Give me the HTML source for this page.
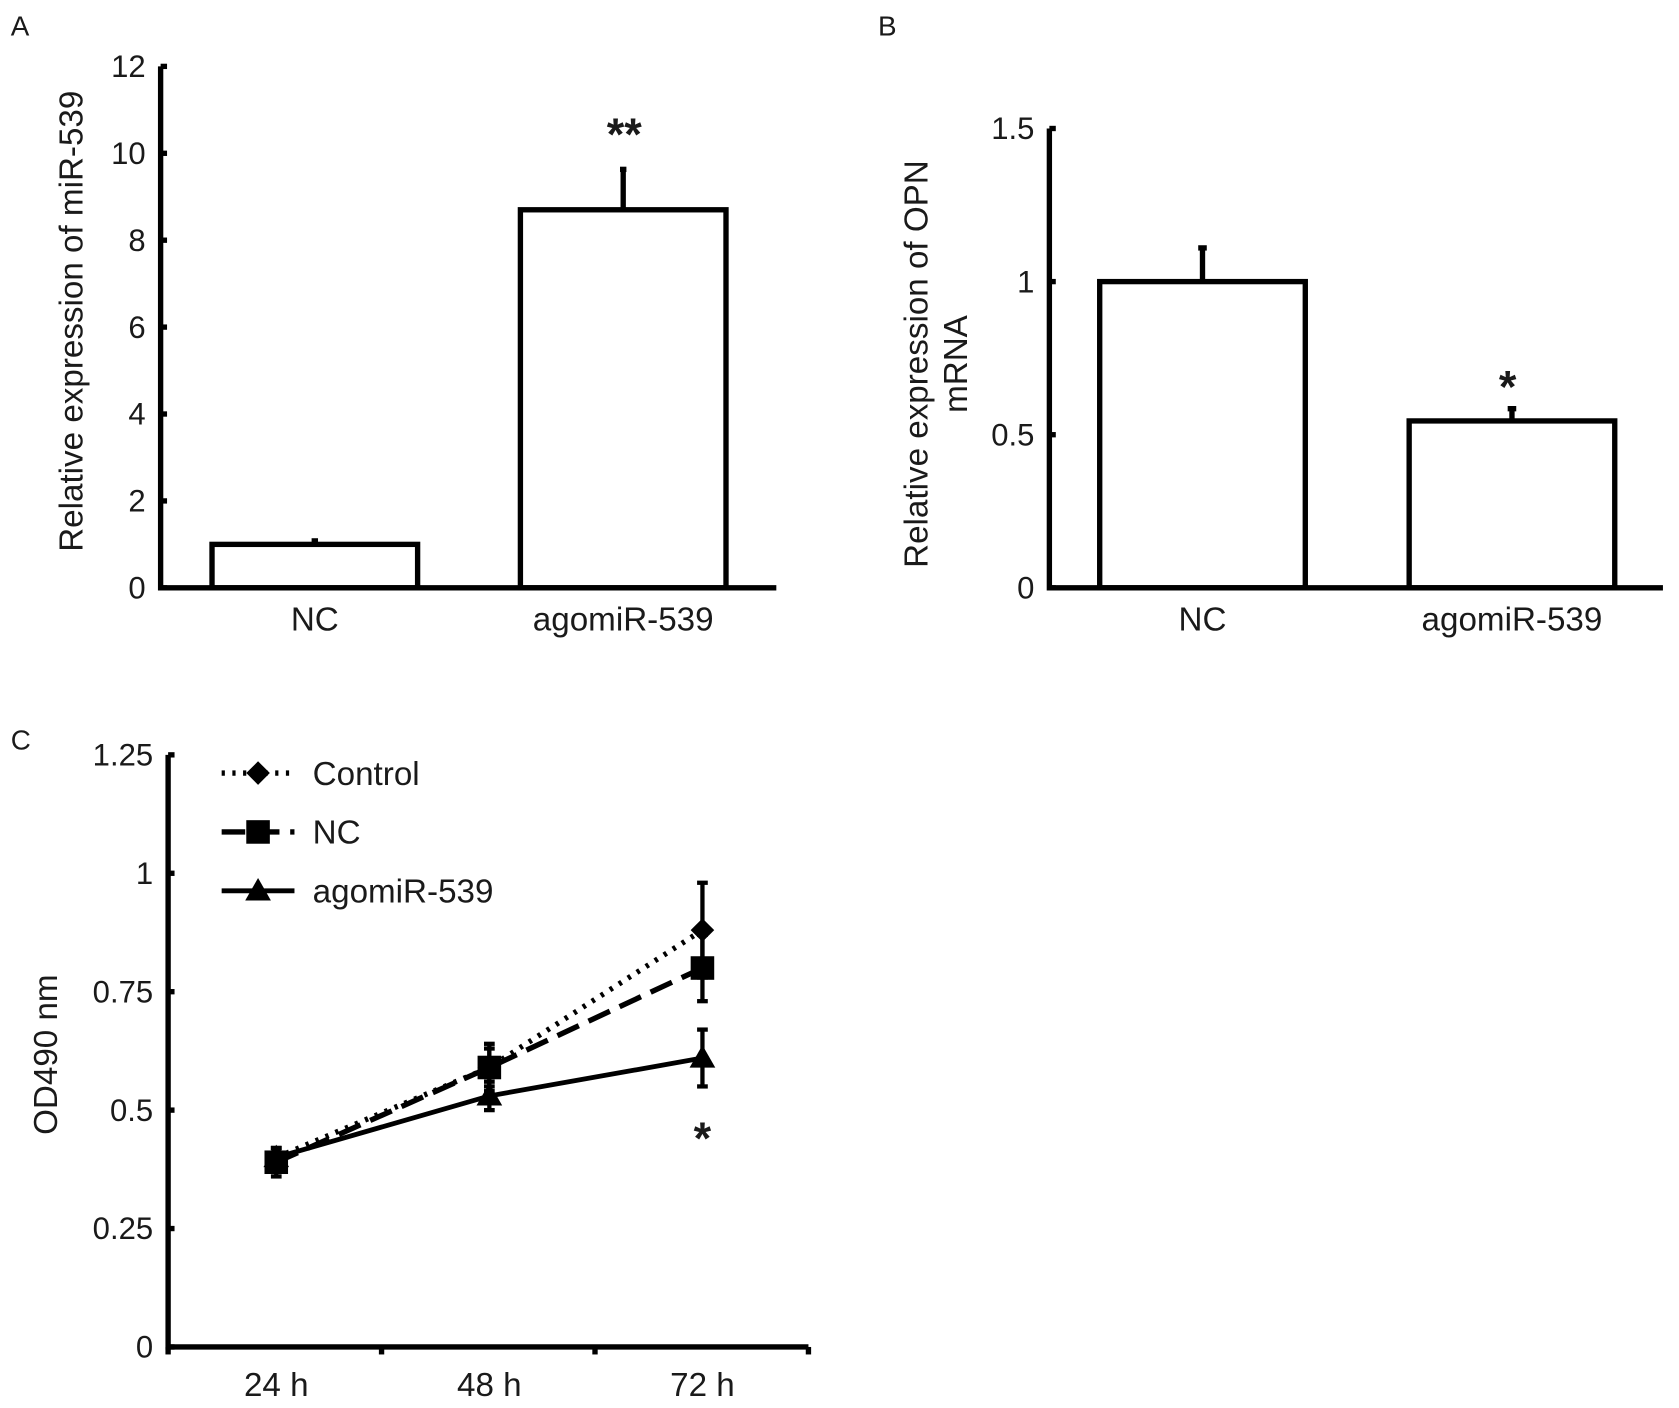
<!DOCTYPE html>
<html><head><meta charset="utf-8"><style>
html,body{margin:0;padding:0;background:#fff;}
svg{display:block;}
text{font-family:"Liberation Sans",Arial,sans-serif;fill:#1a1a1a;}
</style></head><body>
<svg id="fig" width="1679" height="1408" viewBox="0 0 1568 1315" preserveAspectRatio="none" xmlns="http://www.w3.org/2000/svg"></svg>
<script>
// Panel A data
const catsA = ["NC", "agomiR-539"];
const valsA = [1.0, 8.7];
const errA = [0.08, 0.93];
const ticksA = [0, 2, 4, 6, 8, 10, 12];
// Panel B data
const catsB = ["NC", "agomiR-539"];
const valsB = [1.0, 0.545];
const errB = [0.11, 0.04];
const ticksB = [0, 0.5, 1, 1.5];
const tickLabelsB = ["0", "0.5", "1", "1.5"];
// Panel C data
const timesC = ["24 h", "48 h", "72 h"];
const ctrlC = [0.40, 0.59, 0.88];
const ctrlErr = [0.02, 0.04, 0.10];
const ncC = [0.39, 0.59, 0.80];
const ncErr = [0.03, 0.05, 0.07];
const agoC = [0.40, 0.53, 0.61];
const agoErr = [0.02, 0.03, 0.06];
const ticksC = [0, 0.25, 0.5, 0.75, 1, 1.25];
const tickLabelsC = ["0", "0.25", "0.5", "0.75", "1", "1.25"];

const NS = "http://www.w3.org/2000/svg";
const svg = document.getElementById("fig");
function el(tag, attrs, parent, txt) {
  const e = document.createElementNS(NS, tag);
  for (const k in attrs) e.setAttribute(k, attrs[k]);
  if (txt !== undefined) e.textContent = txt;
  (parent || svg).appendChild(e);
  return e;
}
function grp(name) {
  const g = el("g", {});
  
  
  return g;
}
const LW = 5;
const FS = 29;
const TFS = 31;

// ---------- Panel A ----------
(function () {
  const g = grp("panel-a");
  const x0 = 150, xEnd = 725, y0 = 549, yTop = 62;
  const ys = v => y0 - (v / 12) * (y0 - yTop);
  const t = el("text", {x: 10, y: 33, "font-size": 26}, g, "A");
   
  const barX = [198, 486], bw = 192;
  valsA.forEach((v, i) => {
    const cx = barX[i] + bw / 2;
    const e = el("line", {x1: cx, x2: cx, y1: ys(v), y2: ys(v + errA[i]), stroke: "#000", "stroke-width": LW}, g);
     
    const c = el("line", {x1: cx - 3, x2: cx + 3, y1: ys(v + errA[i]), y2: ys(v + errA[i]), stroke: "#000", "stroke-width": LW}, g);
     
    const r = el("rect", {x: barX[i], y: ys(v), width: bw, height: y0 - ys(v), fill: "#fff", stroke: "#000", "stroke-width": LW}, g);
     
    const l = el("text", {x: cx, y: 589, "font-size": TFS, "text-anchor": "middle"}, g, catsA[i]);
     
  });
  const ax = el("path", {d: `M${x0} ${yTop}V${y0}H${xEnd}`, fill: "none", stroke: "#000", "stroke-width": LW}, g);
   
  ticksA.forEach(v => {
    el("line", {x1: x0, x2: x0 + 6, y1: ys(v), y2: ys(v), stroke: "#000", "stroke-width": LW}, g);
    const l = el("text", {x: x0 - 14, y: ys(v) + 10, "font-size": FS, "text-anchor": "end"}, g, String(v));
     
  });
  const s = el("text", {x: 583, y: 140, "font-size": 42, "font-weight": "bold", "text-anchor": "middle"}, g, "**");
   
  const yt = el("text", {x: 0, y: 0, "font-size": TFS, "text-anchor": "middle", transform: "translate(77,300) rotate(-90)"}, g, "Relative expression of miR-539");
   
})();

// ---------- Panel B ----------
(function () {
  const g = grp("panel-b");
  const x0 = 980, xEnd = 1553, y0 = 549, yTop = 120;
  const ys = v => y0 - (v / 1.5) * (y0 - yTop);
  const t = el("text", {x: 820, y: 33, "font-size": 26}, g, "B");
   
  const barX = [1027, 1316], bw = 192;
  valsB.forEach((v, i) => {
    const cx = barX[i] + bw / 2;
    const e = el("line", {x1: cx, x2: cx, y1: ys(v), y2: ys(v + errB[i]), stroke: "#000", "stroke-width": LW}, g);
     
    el("line", {x1: cx - 4, x2: cx + 4, y1: ys(v + errB[i]), y2: ys(v + errB[i]), stroke: "#000", "stroke-width": LW}, g);
    const r = el("rect", {x: barX[i], y: ys(v), width: bw, height: y0 - ys(v), fill: "#fff", stroke: "#000", "stroke-width": LW}, g);
     
    const l = el("text", {x: cx, y: 589, "font-size": TFS, "text-anchor": "middle"}, g, catsB[i]);
     
  });
  const ax = el("path", {d: `M${x0} ${yTop}V${y0}H${xEnd}`, fill: "none", stroke: "#000", "stroke-width": LW}, g);
   
  ticksB.forEach((v, i) => {
    el("line", {x1: x0, x2: x0 + 6, y1: ys(v), y2: ys(v), stroke: "#000", "stroke-width": LW}, g);
    const l = el("text", {x: x0 - 14, y: ys(v) + 10, "font-size": FS, "text-anchor": "end"}, g, tickLabelsB[i]);
     
  });
  const s = el("text", {x: 1408, y: 376, "font-size": 42, "font-weight": "bold", "text-anchor": "middle"}, g, "*");
   
  const yt = el("text", {x: 0, y: 0, "font-size": TFS, "text-anchor": "middle", transform: "translate(866,340) rotate(-90)"}, g);
   
  el("tspan", {x: 0, dy: 0}, yt, "Relative expression of OPN");
  el("tspan", {x: 0, dy: 37}, yt, "mRNA");
})();

// ---------- Panel C ----------
(function () {
  const g = grp("panel-c");
  const x0 = 157, xEnd = 755, y0 = 1258, yTop = 705;
  const ys = v => y0 - (v / 1.25) * (y0 - yTop);
  const xs = i => 258 + i * 199;
  const t = el("text", {x: 10, y: 700, "font-size": 26}, g, "C");
   
  const ax = el("path", {d: `M${x0} ${yTop}V${y0}H${xEnd}`, fill: "none", stroke: "#000", "stroke-width": LW}, g);
   
  ticksC.forEach((v, i) => {
    el("line", {x1: x0, x2: x0 + 6, y1: ys(v), y2: ys(v), stroke: "#000", "stroke-width": LW}, g);
    const l = el("text", {x: x0 - 14, y: ys(v) + 10, "font-size": FS, "text-anchor": "end"}, g, tickLabelsC[i]);
     
  });
  [0, 1, 2, 3].forEach(i => {
    const x = x0 + i * (xEnd - x0) / 3;
    el("line", {x1: x, x2: x, y1: y0, y2: y0 + 7, stroke: "#000", "stroke-width": LW}, g);
  });
  timesC.forEach((tl, i) => {
    const l = el("text", {x: xs(i), y: 1304, "font-size": TFS, "text-anchor": "middle"}, g, tl);
     
  });
  const series = [
    {name: "control", vals: ctrlC, err: ctrlErr, dash: "3 7", marker: "diamond", lw: 5},
    {name: "nc", vals: ncC, err: ncErr, dash: "22 10", marker: "square", lw: 5},
    {name: "agomir-539", vals: agoC, err: agoErr, dash: "", marker: "triangle", lw: 4.5},
  ];
  function marker(type, cx, cy, parent) {
    let m;
    if (type === "diamond") m = el("polygon", {points: `${cx},${cy-11} ${cx+11},${cy} ${cx},${cy+11} ${cx-11},${cy}`, fill: "#000"}, parent);
    else if (type === "square") m = el("rect", {x: cx - 11, y: cy - 11, width: 22, height: 22, fill: "#000"}, parent);
    else m = el("polygon", {points: `${cx},${cy-12} ${cx+12},${cy+9} ${cx-12},${cy+9}`, fill: "#000"}, parent);
    return m;
  }
  series.forEach(s => {
    const sg = el("g", {}, g);
     
    s.vals.forEach((v, i) => {
      const e = el("line", {x1: xs(i), x2: xs(i), y1: ys(v - s.err[i]), y2: ys(v + s.err[i]), stroke: "#000", "stroke-width": 4}, sg);
       
      el("line", {x1: xs(i) - 5, x2: xs(i) + 5, y1: ys(v + s.err[i]), y2: ys(v + s.err[i]), stroke: "#000", "stroke-width": 4}, sg);
      el("line", {x1: xs(i) - 5, x2: xs(i) + 5, y1: ys(v - s.err[i]), y2: ys(v - s.err[i]), stroke: "#000", "stroke-width": 4}, sg);
    });
    const pts = s.vals.map((v, i) => xs(i) + "," + ys(v)).join(" ");
    const pl = el("polyline", {points: pts, fill: "none", stroke: "#000", "stroke-width": s.lw, "stroke-dasharray": s.dash}, sg);
     
    s.vals.forEach((v, i) => {
      const m = marker(s.marker, xs(i), ys(v), sg);
       
    });
  });
  // legend
  const legLabels = ["Control", "NC", "agomiR-539"];
  const legY = [722, 777, 832];
  series.forEach((s, i) => {
    const lg = el("g", {}, g);
     
    el("line", {x1: 207, x2: 275, y1: legY[i], y2: legY[i], stroke: "#000", "stroke-width": s.lw, "stroke-dasharray": s.dash}, lg);
    marker(s.marker, 241, legY[i], lg);
    el("text", {x: 292, y: legY[i] + 11, "font-size": TFS}, lg, legLabels[i]);
  });
  const st = el("text", {x: 656, y: 1078, "font-size": 42, "font-weight": "bold", "text-anchor": "middle"}, g, "*");
   
  const yt = el("text", {x: 0, y: 0, "font-size": TFS, "text-anchor": "middle", transform: "translate(53,985) rotate(-90)"}, g, "OD490 nm");
   
})();
</script>
</body></html>
